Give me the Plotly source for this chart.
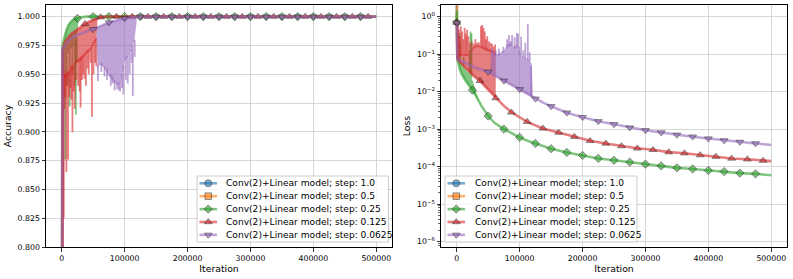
import plotly.graph_objects as go

# ---------------- data ----------------
NAMES = ["Conv(2)+Linear model; step: 1.0", "Conv(2)+Linear model; step: 0.5",
         "Conv(2)+Linear model; step: 0.25", "Conv(2)+Linear model; step: 0.125",
         "Conv(2)+Linear model; step: 0.0625"]
COLORS = ["#1f77b4", "#ff7f0e", "#2ca02c", "#d62728", "#9467bd"]
SYMBOLS = ["circle", "square", "diamond", "triangle-up", "triangle-down"]

X_TICKS = [0, 100000, 200000, 300000, 400000, 500000]
X_TICK_LABELS = ["0", "100000", "200000", "300000", "400000", "500000"]
ACC_TICKS = [0.800, 0.825, 0.850, 0.875, 0.900, 0.925, 0.950, 0.975, 1.000]
ACC_TICK_LABELS = ["0.800", "0.825", "0.850", "0.875", "0.900", "0.925", "0.950", "0.975", "1.000"]
LOSS_TICKS = [1e-6, 1e-5, 1e-4, 1e-3, 1e-2, 1e-1, 1e0]
LOSS_TICK_LABELS = ["10<sup>\u22126</sup>", "10<sup>\u22125</sup>", "10<sup>\u22124</sup>",
                    "10<sup>\u22123</sup>", "10<sup>\u22122</sup>", "10<sup>\u22121</sup>", "10<sup>0</sup>"]

# step 1.0 and 0.5 (diverge immediately)
ACC_IT_S1 = [0, 500]
ACC_S1 = [0.5, 0.5]
LOSS_IT_S1 = [0, 500]
LOSS_S1 = [0.692, 4.8]
MARK_IT_S1 = []
ACC_IT_S2 = [0, 500]
ACC_S2 = [0.5, 0.5]
LOSS_IT_S2 = [0, 500]
LOSS_S2 = [0.692, 3.2]
MARK_IT_S2 = []

# step 0.25 (green)
ACC_IT_S3 = [0, 500, 1000, 2500, 5000, 7500, 10000, 12500, 15000, 17500, 20000, 22500, 25000, 30000,
             40000, 50000, 75000, 100000, 125000, 150000, 175000, 200000, 225000, 250000, 275000,
             300000, 325000, 350000, 375000, 400000, 425000, 450000, 475000, 500000]
ACC_S3 = [0.5, 0.94, 0.973, 0.978, 0.984, 0.9885, 0.992, 0.9945, 0.9957, 0.997, 0.998, 0.9985, 0.9985, 0.9995,
          1.0, 1.0, 1.0, 1.0, 1.0, 1.0, 1.0, 1.0, 1.0, 1.0, 1.0,
          1.0, 1.0, 1.0, 1.0, 1.0, 1.0, 1.0, 1.0, 1.0]
ACC_BAND_IT_S3 = [1000, 2500, 5000, 7500, 10000, 12500, 15000, 17500, 20000, 22500, 25000, 27000]
ACC_BAND_HI_S3 = [0.973, 0.978, 0.984, 0.9885, 0.992, 0.9945, 0.9957, 0.997, 0.998, 0.9985, 0.998, 0.999]
ACC_BAND_LO_S3 = [0.965, 0.96, 0.962, 0.965, 0.968, 0.97, 0.972, 0.975, 0.975, 0.978, 0.985, 0.999]
ACC_SPIKE_IT_S3 = [3000, 5500, 8000, 12700, 17000, 21000, 22500, 24000]
ACC_SPIKE_HI_S3 = [0.962, 0.963, 0.966, 0.97, 0.976, 0.977, 0.979, 0.982]
ACC_SPIKE_LO_S3 = [0.93, 0.876, 0.94, 0.922, 0.95, 0.94, 0.915, 0.96]
LOSS_IT_S3 = [0, 300, 1000, 2500, 5000, 7500, 10000, 15000, 20000, 25000, 30000, 35000, 40000, 50000,
              60000, 75000, 87500, 100000, 112500, 125000, 137500, 150000, 175000, 200000, 225000,
              250000, 275000, 300000, 325000, 350000, 375000, 400000, 425000, 450000, 475000, 500000]
LOSS_S3 = [0.692, 1.41, 0.0759, 0.0562, 0.0398, 0.0302, 0.0251, 0.0186, 0.0141, 0.011, 0.00794, 0.00562,
           0.00398, 0.00224, 0.00148, 0.001, 0.000759, 0.000603, 0.00049, 0.000417, 0.000355, 0.000302,
           0.00024, 0.0002, 0.000166, 0.000148, 0.000132, 0.000117, 0.000105, 0.0000933, 0.0000871,
           0.0000794, 0.0000741, 0.0000676, 0.0000646, 0.0000589]
LOSS_BAND_IT_S3 = [1000, 2500, 5000, 10000, 17500, 25000, 30000, 33500, 36000]
LOSS_BAND_HI_S3 = [0.0794, 0.0708, 0.0603, 0.0501, 0.0339, 0.0204, 0.0112, 0.00676, 0.00537]
LOSS_BAND_LO_S3 = [0.0759, 0.0562, 0.0398, 0.0251, 0.0162, 0.011, 0.00794, 0.00631, 0.00525]
LOSS_SPIKE_IT_S3 = [4300, 5400, 11000, 20300, 22000, 23500]
LOSS_SPIKE_HI_S3 = [0.363, 0.195, 0.0851, 0.129, 0.398, 0.355]
LOSS_SPIKE_LO_S3 = [0.062, 0.06, 0.049, 0.03, 0.026, 0.023]
MARK_IT_S3 = [0, 25000, 50000, 75000, 100000, 125000, 150000, 175000, 200000, 225000, 250000,
              275000, 300000, 325000, 350000, 375000, 400000, 425000, 450000, 475000]

# step 0.125 (red)
ACC_IT_S4 = [0, 500, 1000, 2500, 5000, 10000, 15000, 20000, 25000, 30000, 37000, 45000, 55000, 62000,
             75000, 87000, 100000, 112000, 137000, 162000, 187000, 212000, 237000, 262000, 287000,
             312000, 337000, 362000, 387000, 412000, 437000, 462000, 487000, 500000]
ACC_S4 = [0.5, 0.93, 0.970, 0.974, 0.978, 0.982, 0.985, 0.987, 0.989, 0.991, 0.9937, 0.996, 0.998, 0.9995,
          1.0, 1.0, 1.0, 1.0, 1.0, 1.0, 1.0, 1.0, 1.0, 1.0, 1.0,
          1.0, 1.0, 1.0, 1.0, 1.0, 1.0, 1.0, 1.0, 1.0]
ACC_BAND_IT_S4 = [1000, 2500, 5000, 7500, 10000, 12500, 15000, 17500, 20000, 25000, 30000, 35000,
                  40000, 45000, 50000, 55000, 57000]
ACC_BAND_HI_S4 = [0.970, 0.974, 0.978, 0.980, 0.982, 0.9835, 0.985, 0.986, 0.987, 0.989, 0.991, 0.993,
                  0.9945, 0.996, 0.997, 0.998, 0.9985]
ACC_BAND_LO_S4 = [0.955, 0.95, 0.945, 0.948, 0.95, 0.948, 0.955, 0.952, 0.958, 0.96, 0.962, 0.965,
                  0.968, 0.97, 0.975, 0.98, 0.998]
ACC_SPIKE_IT_S4 = [2000, 3200, 4500, 6000, 7400, 9000, 10000, 12000, 14000, 15500, 17000, 19000, 20500,
                   23000, 26000, 28500, 30000, 32000, 34000, 36000, 38500, 41000, 43000, 46000, 48000,
                   50500, 53000, 55000]
ACC_SPIKE_HI_S4 = [0.955, 0.953, 0.95, 0.95, 0.95, 0.952, 0.953, 0.952, 0.955, 0.958, 0.956, 0.958, 0.96,
                   0.962, 0.963, 0.964, 0.965, 0.966, 0.967, 0.968, 0.97, 0.971, 0.972, 0.973, 0.976,
                   0.978, 0.98, 0.982]
ACC_SPIKE_LO_S4 = [0.78, 0.825, 0.92, 0.93, 0.865, 0.94, 0.876, 0.93, 0.938, 0.928, 0.8995, 0.935, 0.92,
                   0.945, 0.94, 0.935, 0.921, 0.945, 0.95, 0.946, 0.94, 0.955, 0.95, 0.96, 0.913,
                   0.95, 0.96, 0.957]
LOSS_IT_S4 = [0, 500, 1000, 2500, 5000, 10000, 15000, 20000, 25000, 30000, 37000, 45000, 50000, 55000,
              62000, 75000, 87000, 100000, 112000, 125000, 137000, 162000, 187000, 212000, 237000,
              262000, 287000, 312000, 337000, 362000, 387000, 412000, 437000, 462000, 487000, 500000]
LOSS_S4 = [0.692, 0.158, 0.0759, 0.0676, 0.0603, 0.0501, 0.0417, 0.0339, 0.0282, 0.024, 0.0195, 0.0138,
           0.0112, 0.00933, 0.00676, 0.00417, 0.00282, 0.00209, 0.00158, 0.00126, 0.00105, 0.000813,
           0.000631, 0.00049, 0.000417, 0.000355, 0.000309, 0.000282, 0.000245, 0.000229, 0.000204,
           0.000186, 0.000166, 0.000158, 0.000145, 0.000141]
LOSS_BAND_IT_S4 = [1000, 5000, 10000, 15000, 20000, 25000, 30000, 35000, 40000, 45000, 50000, 55000,
                   60000, 62000]
LOSS_BAND_HI_S4 = [0.09, 0.1, 0.1, 0.095, 0.1, 0.15, 0.17, 0.18, 0.16, 0.15, 0.14, 0.13, 0.12, 0.1]
LOSS_BAND_LO_S4 = [0.0759, 0.0603, 0.0501, 0.0417, 0.0339, 0.0282, 0.024, 0.0204, 0.017, 0.0138, 0.0112,
                   0.00933, 0.00759, 0.00692]
LOSS_SPIKE_IT_S4 = [2000, 3500, 5000, 6500, 8500, 10500, 12500, 14500, 16500, 18500, 21000, 24000, 27000,
                    29500, 32000, 35000, 38500, 40500, 42500, 44500, 46500, 48500, 51000, 53500, 56000,
                    58500, 61000]
LOSS_SPIKE_HI_S4 = [0.6, 0.45, 0.3, 0.55, 0.4, 0.25, 0.5, 0.35, 0.45, 0.3, 0.2, 0.22, 0.19, 0.25, 0.2,
                    0.21, 0.55, 0.6, 0.5, 0.4, 0.25, 0.3, 0.22, 0.2, 0.19, 0.16, 0.18]
LOSS_SPIKE_LO_S4 = [0.08, 0.09, 0.095, 0.09, 0.09, 0.095, 0.09, 0.09, 0.09, 0.095, 0.1, 0.12, 0.14, 0.15,
                    0.16, 0.15, 0.15, 0.14, 0.14, 0.13, 0.13, 0.12, 0.12, 0.11, 0.11, 0.1, 0.09]
MARK_IT_S4 = [0, 37000, 62000, 87000, 112000, 137000, 162000, 187000, 212000, 237000, 262000, 287000,
              312000, 337000, 362000, 387000, 412000, 437000, 462000, 487000]

# step 0.0625 (purple)
ACC_IT_S5 = [0, 500, 1000, 2500, 5000, 10000, 15000, 20000, 25000, 30000, 40000, 50000, 62500, 75000,
             87500, 100000, 112500, 125000, 150000, 175000, 200000, 225000, 250000, 275000, 300000,
             325000, 350000, 375000, 400000, 425000, 450000, 475000, 500000]
ACC_S5 = [0.5, 0.9, 0.970, 0.973, 0.975, 0.979, 0.981, 0.983, 0.984, 0.985, 0.987, 0.989, 0.992, 0.9948,
          0.997, 0.9986, 0.9995, 1.0, 1.0, 1.0, 1.0, 1.0, 1.0, 1.0, 1.0,
          1.0, 1.0, 1.0, 1.0, 1.0, 1.0, 1.0, 1.0]
ACC_BAND_IT_S5 = [55000, 57000, 60000, 65000, 70000, 75000, 80000, 85000, 90000, 95000, 100000, 105000,
                  110000, 115000, 119000]
ACC_BAND_HI_S5 = [0.990, 0.9905, 0.991, 0.9925, 0.994, 0.9948, 0.9957, 0.9966, 0.9975, 0.998, 0.9986,
                  0.999, 0.9993, 0.9995, 0.9996]
ACC_BAND_LO_S5 = [0.990, 0.955, 0.958, 0.957, 0.953, 0.948, 0.945, 0.942, 0.94, 0.945, 0.962, 0.965,
                  0.97, 0.978, 0.995]
ACC_SPIKE_IT_S5 = [57500, 63000, 68000, 72000, 78000, 81000, 84000, 88000, 91000, 93000, 96000, 98000,
                   102000, 105000, 108000, 111000, 113000, 116000]
ACC_SPIKE_HI_S5 = [0.958, 0.96, 0.957, 0.955, 0.95, 0.948, 0.945, 0.943, 0.942, 0.944, 0.95, 0.958,
                   0.965, 0.966, 0.968, 0.972, 0.975, 0.98]
ACC_SPIKE_LO_S5 = [0.944, 0.952, 0.948, 0.945, 0.94, 0.942, 0.936, 0.937, 0.936, 0.935, 0.938, 0.9325,
                   0.945, 0.942, 0.95, 0.96, 0.931, 0.965]
LOSS_IT_S5 = [0, 500, 1000, 2500, 5000, 10000, 15000, 25000, 37500, 50000, 62500, 75000, 87500, 100000,
              112500, 125000, 137500, 150000, 175000, 200000, 225000, 250000, 275000, 300000, 325000,
              350000, 375000, 400000, 425000, 450000, 475000, 500000]
LOSS_S5 = [0.692, 0.158, 0.0776, 0.0708, 0.0661, 0.0631, 0.0562, 0.0468, 0.0398, 0.0339, 0.0257, 0.0195,
           0.0148, 0.0115, 0.00851, 0.00646, 0.00513, 0.00407, 0.00275, 0.00209, 0.00162, 0.00135,
           0.0011, 0.000933, 0.000813, 0.000708, 0.000631, 0.000562, 0.000501, 0.000457, 0.000417, 0.00038]
LOSS_BAND_IT_S5 = [53000, 55000, 60000, 65000, 70000, 75000, 80000, 85000, 90000, 95000, 100000, 105000,
                   110000, 115000, 119000, 121000]
LOSS_BAND_HI_S5 = [0.0316, 0.112, 0.112, 0.1, 0.112, 0.126, 0.178, 0.2, 0.158, 0.178, 0.112, 0.0891,
                   0.0794, 0.0708, 0.0562, 0.00708]
LOSS_BAND_LO_S5 = [0.0316, 0.0302, 0.0269, 0.0245, 0.0219, 0.0195, 0.0174, 0.0158, 0.0141, 0.0126, 0.0115,
                   0.0102, 0.00912, 0.00813, 0.00741, 0.00708]
LOSS_SPIKE_IT_S5 = [56000, 62000, 67000, 74000, 80000, 83000, 86000, 88000, 92000, 95500, 97500, 99700,
                    102400, 106000, 109000, 113000, 116000, 118300]
LOSS_SPIKE_HI_S5 = [0.141, 0.13, 0.141, 0.158, 0.251, 0.324, 0.224, 0.324, 0.282, 0.363, 0.355, 0.158,
                    0.295, 0.126, 0.2, 0.638, 0.112, 0.049]
LOSS_SPIKE_LO_S5 = [0.1, 0.1, 0.09, 0.11, 0.15, 0.16, 0.17, 0.16, 0.14, 0.15, 0.14, 0.1, 0.1, 0.085,
                    0.075, 0.07, 0.065, 0.0076]
MARK_IT_S5 = [0, 50000, 75000, 100000, 125000, 150000, 175000, 200000, 225000, 250000, 275000, 300000,
              325000, 350000, 375000, 400000, 425000, 450000, 475000]

# ---------------- layout constants ----------------
W, H = 793, 279
ML, MR, MT, MB = 46, 6, 5, 32
FONT = "DejaVu Sans"
ALPHA = 0.6
LINE_W = 2.6
MSIZE = {"circle": 7, "square": 6.5, "diamond": 6.3, "triangle-up": 6.8, "triangle-down": 6.8}


def rgba(hex_color, a):
    h = hex_color.lstrip("#")
    return "rgba(%d,%d,%d,%s)" % (int(h[0:2], 16), int(h[2:4], 16), int(h[4:6], 16), a)


fig = go.Figure()


def add_series(xa, ya, k, it, vals, marks, band=None, spikes=None):
    color = COLORS[k]
    common = dict(xaxis=xa, yaxis=ya, showlegend=False, hoverinfo="skip")
    if band is not None:
        bx, bhi, blo = band
        fig.add_trace(go.Scatter(x=bx + bx[::-1], y=bhi + blo[::-1], mode="lines", fill="toself",
                                 fillcolor=rgba(color, ALPHA), line=dict(width=0), **common))
    if spikes is not None:
        sx, shi, slo = spikes
        xs, ys = [], []
        for x, hi, lo in zip(sx, shi, slo):
            xs += [x, x, None]
            ys += [hi, lo, None]
        fig.add_trace(go.Scatter(x=xs, y=ys, mode="lines", line=dict(color=rgba(color, ALPHA), width=1.8),
                                 **common))
    fig.add_trace(go.Scatter(x=it, y=vals, mode="lines", line=dict(color=color, width=LINE_W),
                             opacity=ALPHA, **common))
    mx = [x for x in it if x in marks]
    my = [v for x, v in zip(it, vals) if x in marks]
    if mx:
        fig.add_trace(go.Scatter(x=mx, y=my, mode="markers", opacity=ALPHA,
                                 marker=dict(symbol=SYMBOLS[k], size=MSIZE[SYMBOLS[k]], color=color,
                                             line=dict(color="#222222", width=0.9)), **common))


# accuracy panel
add_series("x", "y", 0, ACC_IT_S1, ACC_S1, MARK_IT_S1)
add_series("x", "y", 1, ACC_IT_S2, ACC_S2, MARK_IT_S2)
add_series("x", "y", 2, ACC_IT_S3, ACC_S3, MARK_IT_S3,
           (ACC_BAND_IT_S3, ACC_BAND_HI_S3, ACC_BAND_LO_S3), (ACC_SPIKE_IT_S3, ACC_SPIKE_HI_S3, ACC_SPIKE_LO_S3))
add_series("x", "y", 3, ACC_IT_S4, ACC_S4, MARK_IT_S4,
           (ACC_BAND_IT_S4, ACC_BAND_HI_S4, ACC_BAND_LO_S4), (ACC_SPIKE_IT_S4, ACC_SPIKE_HI_S4, ACC_SPIKE_LO_S4))
add_series("x", "y", 4, ACC_IT_S5, ACC_S5, MARK_IT_S5,
           (ACC_BAND_IT_S5, ACC_BAND_HI_S5, ACC_BAND_LO_S5), (ACC_SPIKE_IT_S5, ACC_SPIKE_HI_S5, ACC_SPIKE_LO_S5))

# loss panel
add_series("x2", "y2", 0, LOSS_IT_S1, LOSS_S1, MARK_IT_S1)
add_series("x2", "y2", 1, LOSS_IT_S2, LOSS_S2, MARK_IT_S2)
add_series("x2", "y2", 2, LOSS_IT_S3, LOSS_S3, MARK_IT_S3,
           (LOSS_BAND_IT_S3, LOSS_BAND_HI_S3, LOSS_BAND_LO_S3), (LOSS_SPIKE_IT_S3, LOSS_SPIKE_HI_S3, LOSS_SPIKE_LO_S3))
add_series("x2", "y2", 3, LOSS_IT_S4, LOSS_S4, MARK_IT_S4,
           (LOSS_BAND_IT_S4, LOSS_BAND_HI_S4, LOSS_BAND_LO_S4), (LOSS_SPIKE_IT_S4, LOSS_SPIKE_HI_S4, LOSS_SPIKE_LO_S4))
add_series("x2", "y2", 4, LOSS_IT_S5, LOSS_S5, MARK_IT_S5,
           (LOSS_BAND_IT_S5, LOSS_BAND_HI_S5, LOSS_BAND_LO_S5), (LOSS_SPIKE_IT_S5, LOSS_SPIKE_HI_S5, LOSS_SPIKE_LO_S5))

# ---------------- legends (matplotlib-style boxes, drawn in pixel space) ----------------
LEGEND_BOXES = [(197, 388.5, 176, 242, 199.5, 217, 224), (445, 637, 176, 242, 447.5, 465, 472.5)]
ROWS = [183.3, 196.2, 209.1, 222.0, 234.9]
annotations = []
for (bx0, bx1, by0, by1, lx0, lx1, tx) in LEGEND_BOXES:
    fig.add_trace(go.Scatter(x=[bx0, bx1, bx1, bx0, bx0], y=[by0, by0, by1, by1, by0], mode="lines",
                             fill="toself", fillcolor="rgba(255,255,255,0.8)",
                             line=dict(color="#cccccc", width=1), xaxis="x3", yaxis="y3",
                             showlegend=False, hoverinfo="skip"))
    for k in range(5):
        fig.add_trace(go.Scatter(x=[lx0, lx1], y=[ROWS[k], ROWS[k]], mode="lines",
                                 line=dict(color=COLORS[k], width=LINE_W), opacity=ALPHA,
                                 xaxis="x3", yaxis="y3", showlegend=False, hoverinfo="skip"))
        fig.add_trace(go.Scatter(x=[(lx0 + lx1) / 2], y=[ROWS[k]], mode="markers", opacity=ALPHA,
                                 marker=dict(symbol=SYMBOLS[k], size=MSIZE[SYMBOLS[k]], color=COLORS[k],
                                             line=dict(color="#222222", width=0.9)),
                                 xaxis="x3", yaxis="y3", showlegend=False, hoverinfo="skip"))
        annotations.append(dict(x=tx, y=ROWS[k], xref="x3", yref="y3", text=NAMES[k], showarrow=False,
                                xanchor="left", yanchor="middle",
                                font=dict(family=FONT, size=9.1, color="#000000")))

axis_common = dict(showline=True, linecolor="#000000", linewidth=1, mirror=True, ticks="outside",
                   ticklen=3.5, tickwidth=0.8, tickcolor="#000000", showgrid=True, gridcolor="#cccccc",
                   gridwidth=0.8, zeroline=False, automargin=False,
                   tickfont=dict(family=FONT, size=7.8, color="#000000"))
title_font = dict(family=FONT, size=9.3, color="#000000")

plot_w = W - ML - MR
fig.update_layout(
    template="none",
    width=W, height=H, margin=dict(l=ML, r=MR, t=MT, b=MB),
    paper_bgcolor="white", plot_bgcolor="rgba(0,0,0,0)", hovermode=False, showlegend=False,
    font=dict(family=FONT),
    xaxis=dict(domain=[0, (392 - ML) / plot_w], range=[-25000, 525000], anchor="y",
               tickmode="array", tickvals=X_TICKS, ticktext=X_TICK_LABELS,
               title=dict(text="Iteration", font=title_font, standoff=2), **axis_common),
    yaxis=dict(domain=[0, 1], range=[0.8, 1.0101], anchor="x",
               tickmode="array", tickvals=ACC_TICKS, ticktext=ACC_TICK_LABELS,
               title=dict(text="Accuracy", font=title_font, standoff=4), **axis_common),
    xaxis2=dict(domain=[(441 - ML) / plot_w, 1], range=[-25000, 525000], anchor="y2",
                tickmode="array", tickvals=X_TICKS, ticktext=X_TICK_LABELS,
                title=dict(text="Iteration", font=title_font, standoff=2), **axis_common),
    yaxis2=dict(domain=[0, 1], type="log", range=[-6.14, 0.31], anchor="x2",
                tickmode="array", tickvals=LOSS_TICKS, ticktext=LOSS_TICK_LABELS,
                minor=dict(tickmode="array",
                           tickvals=[m * 10.0 ** e for e in range(-7, 1) for m in range(2, 10)],
                           ticks="outside", ticklen=2, tickwidth=0.6, tickcolor="#000000", showgrid=False),
                title=dict(text="Loss", font=title_font, standoff=4), **axis_common),
    xaxis3=dict(domain=[0, 1], range=[ML, W - MR], anchor="y3", visible=False, fixedrange=True,
                showgrid=False, zeroline=False),
    yaxis3=dict(domain=[0, 1], range=[H - MB, MT], anchor="x3", visible=False, fixedrange=True,
                showgrid=False, zeroline=False),
    annotations=annotations,
)

fig.write_html("out.html", config={"displayModeBar": False, "staticPlot": True},
               post_script="document.body.style.margin='0';document.body.style.padding='0';")
